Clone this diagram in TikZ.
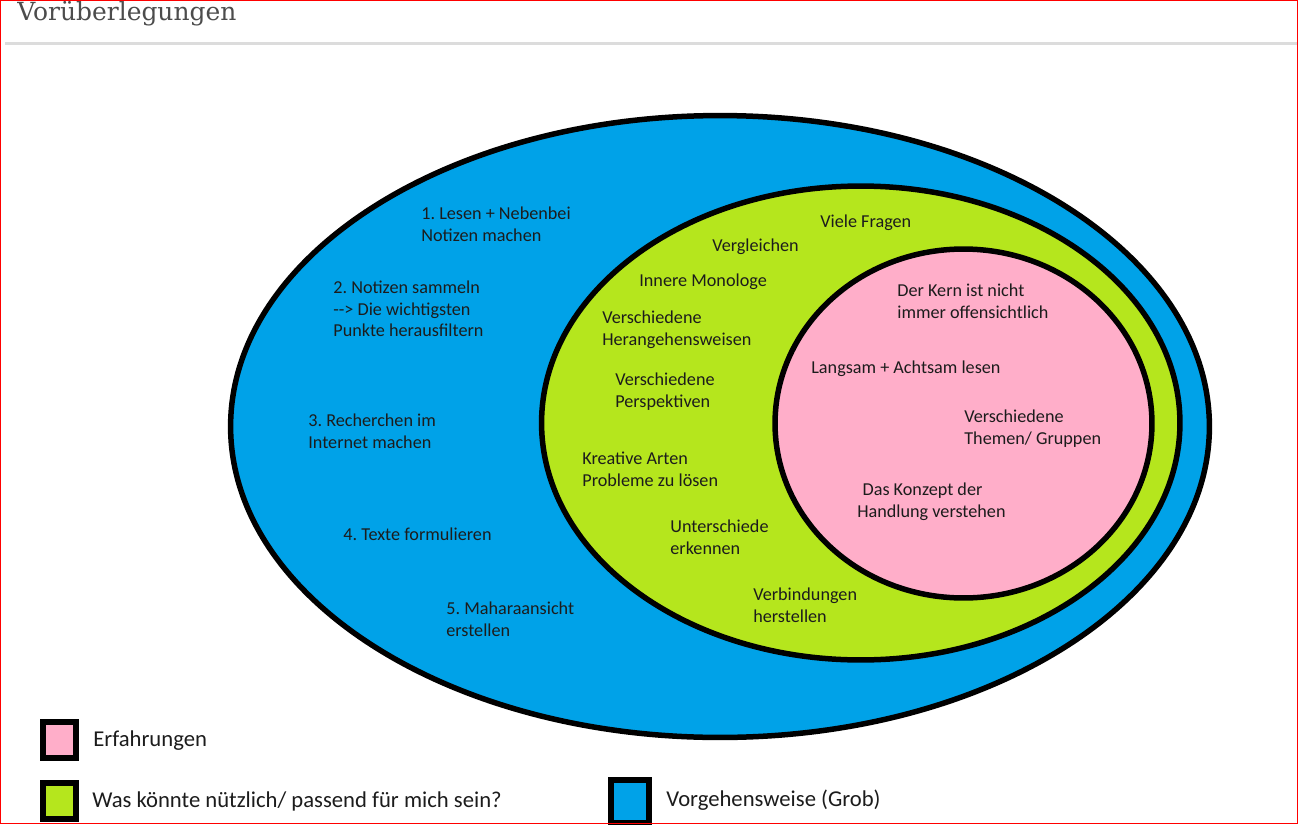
\documentclass[tikz,border=0pt]{standalone}
\usepackage{fontspec}
\setmainfont{Carlito}
\newfontfamily\titlefont{DejaVu Serif}
\usetikzlibrary{shapes.geometric}

\definecolor{vblue}{HTML}{00A2E8}
\definecolor{vgreen}{HTML}{B5E61D}
\definecolor{vpink}{HTML}{FFAEC9}
\definecolor{inktext}{HTML}{1C1C1C}
\definecolor{rulegray}{HTML}{DCDCDC}

\tikzset{
  blob/.style={ellipse, draw=black, line width=0.11cm, inner sep=0pt},
  lbl/.style={anchor=west, inner sep=0pt, align=left, text=inktext,
    font=\fontsize{10.35}{12.3}\selectfont},
  keybox/.style={rectangle, draw=black, line width=0.12cm, inner sep=0pt},
  keytext/.style={anchor=west, inner sep=0pt, text=inktext,
    font=\fontsize{12.9}{15}\selectfont},
}
\frenchspacing

\begin{document}
\begin{tikzpicture}[x=0.02cm, y=-0.02cm]
\useasboundingbox (0,0) rectangle (1299,825);
\clip (0,0) rectangle (1299,825);
\fill[white] (0,0) rectangle (1299,825);

% header
\node[anchor=base west, inner sep=0pt, text=black!70, font=\titlefont\fontsize{14.2}{16}\selectfont]
  (titel) at (17,20.5) {Vorüberlegungen};
\draw[rulegray, line width=0.06cm] (5,43.3) -- (1297,43.3);

% the three sets
\node[blob, fill=vblue, minimum width=19.58cm, minimum height=12.44cm] (vorgehen) at (720,426.5) {};
\node[blob, fill=vgreen, minimum width=12.77cm, minimum height=9.48cm] (nuetzlich) at (860.75,423) {};
\node[blob, fill=vpink, minimum width=7.54cm, minimum height=6.98cm] (erfahrung) at (963.5,423.5) {};

% Vorgehensweise
\node[lbl] (b1) at (421,224) {1. Lesen + Nebenbei\\Notizen machen};
\node[lbl] (b2) at (333,309) {2. Notizen sammeln\\{-}{-}> Die wichtigsten\\Punkte herausfiltern};
\node[lbl] (b3) at (308,431) {3. Recherchen im\\Internet machen};
\node[lbl] (b4) at (343,534.5) {4. Texte formulieren};
\node[lbl] (b5) at (446,619.5) {5. Maharaansicht\\erstellen};

% Was koennte nuetzlich sein
\node[lbl] (g1) at (820,222.5) {Viele Fragen};
\node[lbl] (g2) at (712,246.5) {Vergleichen};
\node[lbl] (g3) at (639,281.5) {Innere Monologe};
\node[lbl] (g4) at (602,329.5) {Verschiedene\\Herangehensweisen};
\node[lbl] (g5) at (615,391.5) {Verschiedene\\Perspektiven};
\node[lbl] (g6) at (582,469.5) {Kreative Arten\\Probleme zu lösen};
\node[lbl] (g7) at (670,537.5) {Unterschiede\\erkennen};
\node[lbl] (g8) at (753,605) {Verbindungen\\herstellen};

% Erfahrungen
\node[lbl] (p1) at (897,301.5) {Der Kern ist nicht\\immer offensichtlich};
\node[lbl] (p2) at (811,368.5) {Langsam + Achtsam lesen};
\node[lbl] (p3) at (964,428.5) {Verschiedene\\Themen/ Gruppen};
\node[lbl] (p4) at (857,502) {\hspace{3pt}Das Konzept der\\Handlung verstehen};

% legend
\node[keybox, fill=vpink, minimum width=0.66cm, minimum height=0.72cm] (keyErf) at (59.5,739.5) {};
\node[keybox, fill=vgreen, minimum width=0.66cm, minimum height=0.72cm] (keyNutz) at (59.5,801) {};
\node[keybox, fill=vblue, minimum width=0.76cm, minimum height=0.86cm] (keyVorg) at (630,801.5) {};
\node[keytext] (txtErf) at (93,741) {Erfahrungen};
\node[keytext] (txtNutz) at (92,801) {Was könnte nützlich/ passend für mich sein?};
\node[keytext] (txtVorg) at (666,800) {Vorgehensweise (Grob)};

% frame
\draw[red, line width=0.025cm] (0.6,0.6) rectangle (1297.6,823.6);
\end{tikzpicture}
\end{document}
